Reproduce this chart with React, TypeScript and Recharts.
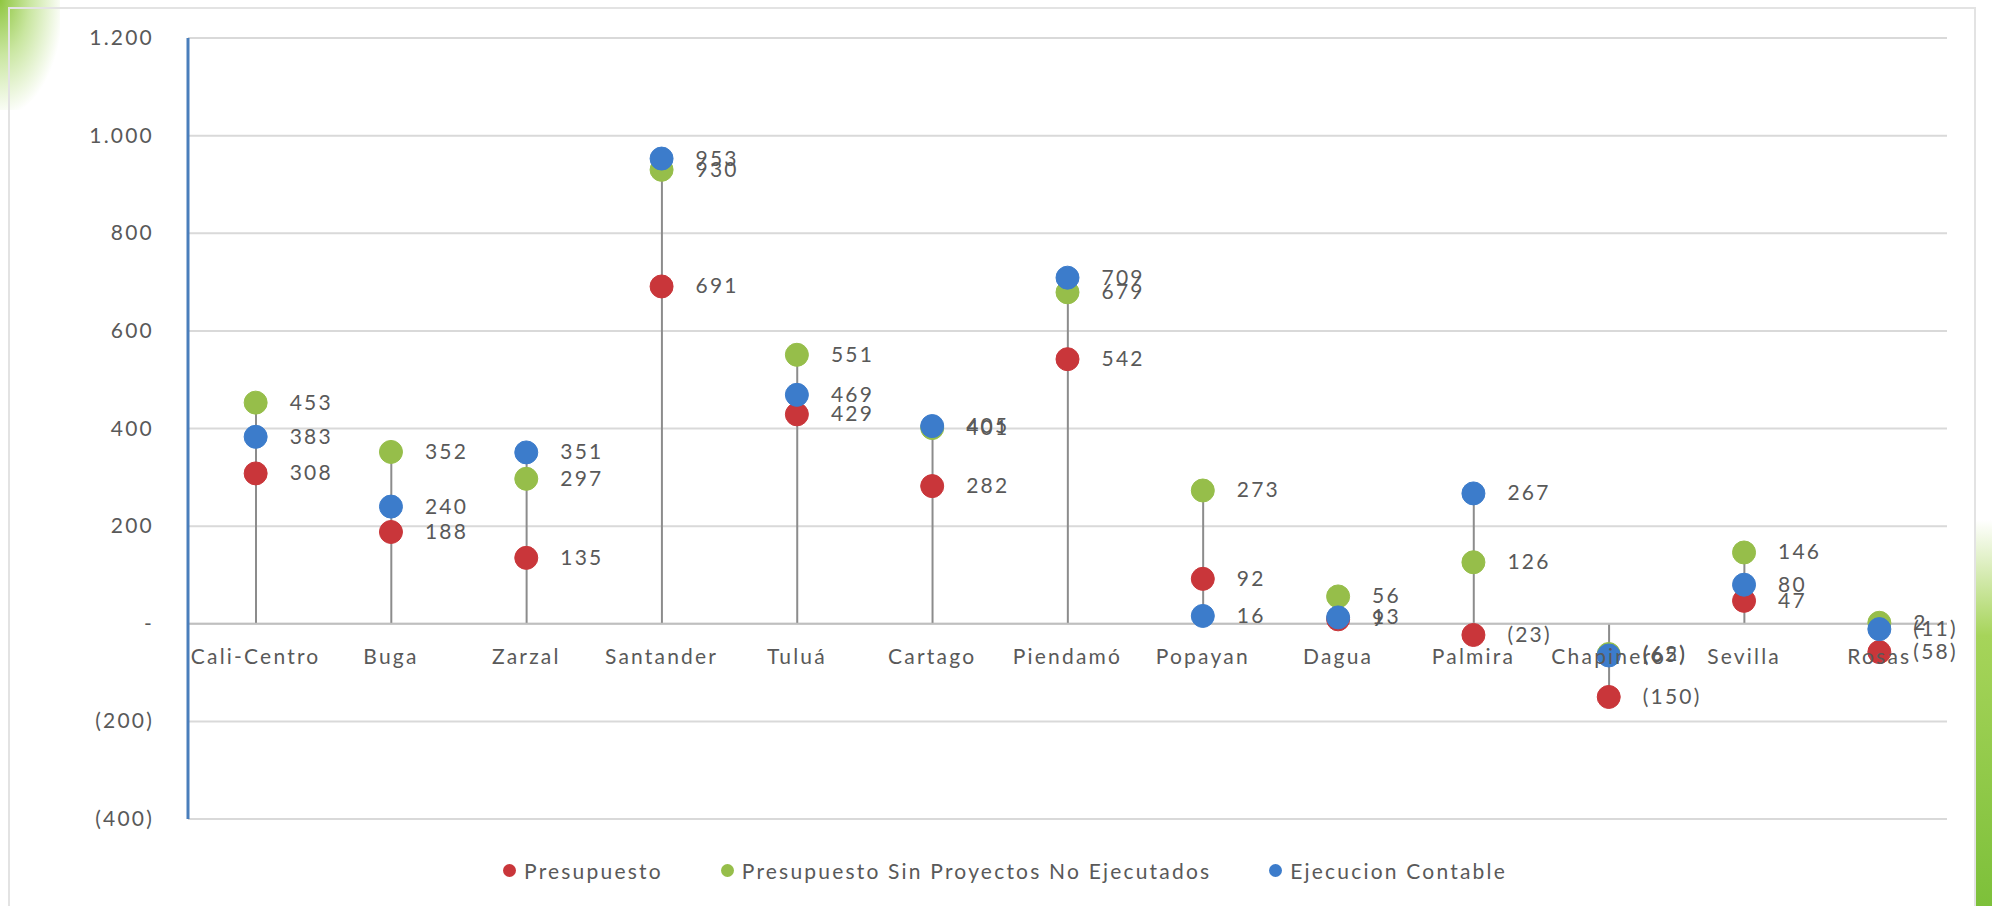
import React from 'react';
import { ComposedChart, Bar, Line, XAxis, YAxis, CartesianGrid, ReferenceLine, LabelList } from 'recharts';

const categories = ['Cali-Centro', 'Buga', 'Zarzal', 'Santander', 'Tuluá', 'Cartago', 'Piendamó', 'Popayan', 'Dagua', 'Palmira', 'Chapinero', 'Sevilla', 'Rosas'];
const presupuesto = [308, 188, 135, 691, 429, 282, 542, 92, 9, -23, -150, 47, -58];
const sinProyectos = [453, 352, 297, 930, 551, 401, 679, 273, 56, 126, -62, 146, 2];
const ejecucion = [383, 240, 351, 953, 469, 405, 709, 16, 13, 267, -65, 80, -11];
const yTicks = [-400, -200, 0, 200, 400, 600, 800, 1000, 1200];

const RED = '#C9363A';
const GREEN = '#96BE4A';
const BLUE = '#3C7CCB';
const TEXT = '#595959';
const FONT = 'Lato, "Open Sans", sans-serif';
const FS = 21;
const LS = 2.2;

const W = 1992;
const H = 906;
const M = { top: 38, right: 45, left: 108, bottom: 57 };
const X_AXIS_H = 30;
const Y_MIN = -400;
const Y_MAX = 1200;
const PLOT_H = H - M.top - M.bottom - X_AXIS_H;
const ZERO_UP = (PLOT_H * (0 - Y_MIN)) / (Y_MAX - Y_MIN);

const data = categories.map((name, i) => {
    const vals = [presupuesto[i], sinProyectos[i], ejecucion[i]];
    return {
        name,
        presupuesto: presupuesto[i],
        sinProyectos: sinProyectos[i],
        ejecucion: ejecucion[i],
        drop: [Math.min(0, ...vals), Math.max(0, ...vals)],
    };
});

const fmtNum = (v: number) => {
    if (v === 0) return '-';
    const s = Math.abs(v).toLocaleString('de-DE');
    return v < 0 ? `(${s})` : s;
};

const CategoryTick = (props: any) => {
    const { x, y, payload } = props;
    return (
        <text x={x} y={y - ZERO_UP + 32} textAnchor="middle" fill={TEXT} fontSize={FS} letterSpacing={LS} fontFamily={FONT}>
            {payload.value}
        </text>
    );
};

const YTick = (props: any) => {
    const { x, y, payload } = props;
    return (
        <text x={x} y={y} dy={7} textAnchor="end" fill={TEXT} fontSize={FS} letterSpacing={LS} fontFamily={FONT}>
            {fmtNum(payload.value)}
        </text>
    );
};

const ValueLabel = (props: any) => {
    const { x, y, value } = props;
    return (
        <text x={x + 34} y={y} dy={7} fill={TEXT} fontSize={FS} letterSpacing={LS} fontFamily={FONT}>
            {fmtNum(value)}
        </text>
    );
};

const legendItems = [
    { label: 'Presupuesto', color: RED },
    { label: 'Presupuesto Sin Proyectos No Ejecutados', color: GREEN },
    { label: 'Ejecucion Contable', color: BLUE },
];

export default function App() {
    return (
        <div style={{ position: 'absolute', left: 0, top: 0, width: W, height: H, background: '#fff', overflow: 'hidden' }}>
            <div style={{ position: 'absolute', left: 0, top: 0, width: 60, height: 110, background: 'radial-gradient(ellipse at 0% 0%, #8fc640 0%, #c9e6a0 35%, rgba(255,255,255,0) 75%)' }} />
            <div style={{ position: 'absolute', left: 1976, top: 520, width: 16, height: 386, background: 'linear-gradient(to bottom, rgba(255,255,255,0), #a6d45a 30%, #7dc03a)' }} />
            <div style={{ position: 'absolute', left: 8, top: 7, width: 1968, height: 920, border: '2px solid #e3e3e3', boxSizing: 'border-box' }} />
            <div style={{ position: 'absolute', left: 0, top: 0 }}>
                <ComposedChart width={W} height={H} data={data} margin={M}>
                    <CartesianGrid horizontal vertical={false} stroke="#D9D9D9" strokeWidth={2} />
                    <XAxis
                        dataKey="name"
                        height={X_AXIS_H}
                        axisLine={false}
                        tickLine={false}
                        interval={0}
                        tick={<CategoryTick />}
                    />
                    <YAxis
                        width={80}
                        domain={[Y_MIN, Y_MAX]}
                        ticks={yTicks}
                        axisLine={{ stroke: '#4A7EBB', strokeWidth: 3 }}
                        tickLine={false}
                        tickMargin={28}
                        tick={<YTick />}
                    />
                    <ReferenceLine y={0} stroke="#BFBFBF" strokeWidth={2} />
                    <Bar dataKey="drop" barSize={2} fill="#8C8C8C" isAnimationActive={false} />
                    <Line dataKey="presupuesto" stroke="none" isAnimationActive={false}
                        dot={{ r: 11.5, fill: RED, stroke: RED, strokeWidth: 1 }} activeDot={false}>
                        <LabelList dataKey="presupuesto" content={<ValueLabel />} />
                    </Line>
                    <Line dataKey="sinProyectos" stroke="none" isAnimationActive={false}
                        dot={{ r: 11.5, fill: GREEN, stroke: GREEN, strokeWidth: 1 }} activeDot={false}>
                        <LabelList dataKey="sinProyectos" content={<ValueLabel />} />
                    </Line>
                    <Line dataKey="ejecucion" stroke="none" isAnimationActive={false}
                        dot={{ r: 11.5, fill: BLUE, stroke: BLUE, strokeWidth: 1 }} activeDot={false}>
                        <LabelList dataKey="ejecucion" content={<ValueLabel />} />
                    </Line>
                </ComposedChart>
            </div>
            <div style={{ position: 'absolute', top: 858, left: 0, width: W, display: 'flex', justifyContent: 'center', gap: 58, fontFamily: FONT, fontSize: FS, letterSpacing: LS, color: TEXT, paddingLeft: 18, boxSizing: 'border-box' }}>
                {legendItems.map((it) => (
                    <div key={it.label} style={{ display: 'flex', alignItems: 'center', gap: 8 }}>
                        <span style={{ width: 13, height: 13, borderRadius: 7, background: it.color, display: 'inline-block' }} />
                        <span>{it.label}</span>
                    </div>
                ))}
            </div>
        </div>
    );
}
